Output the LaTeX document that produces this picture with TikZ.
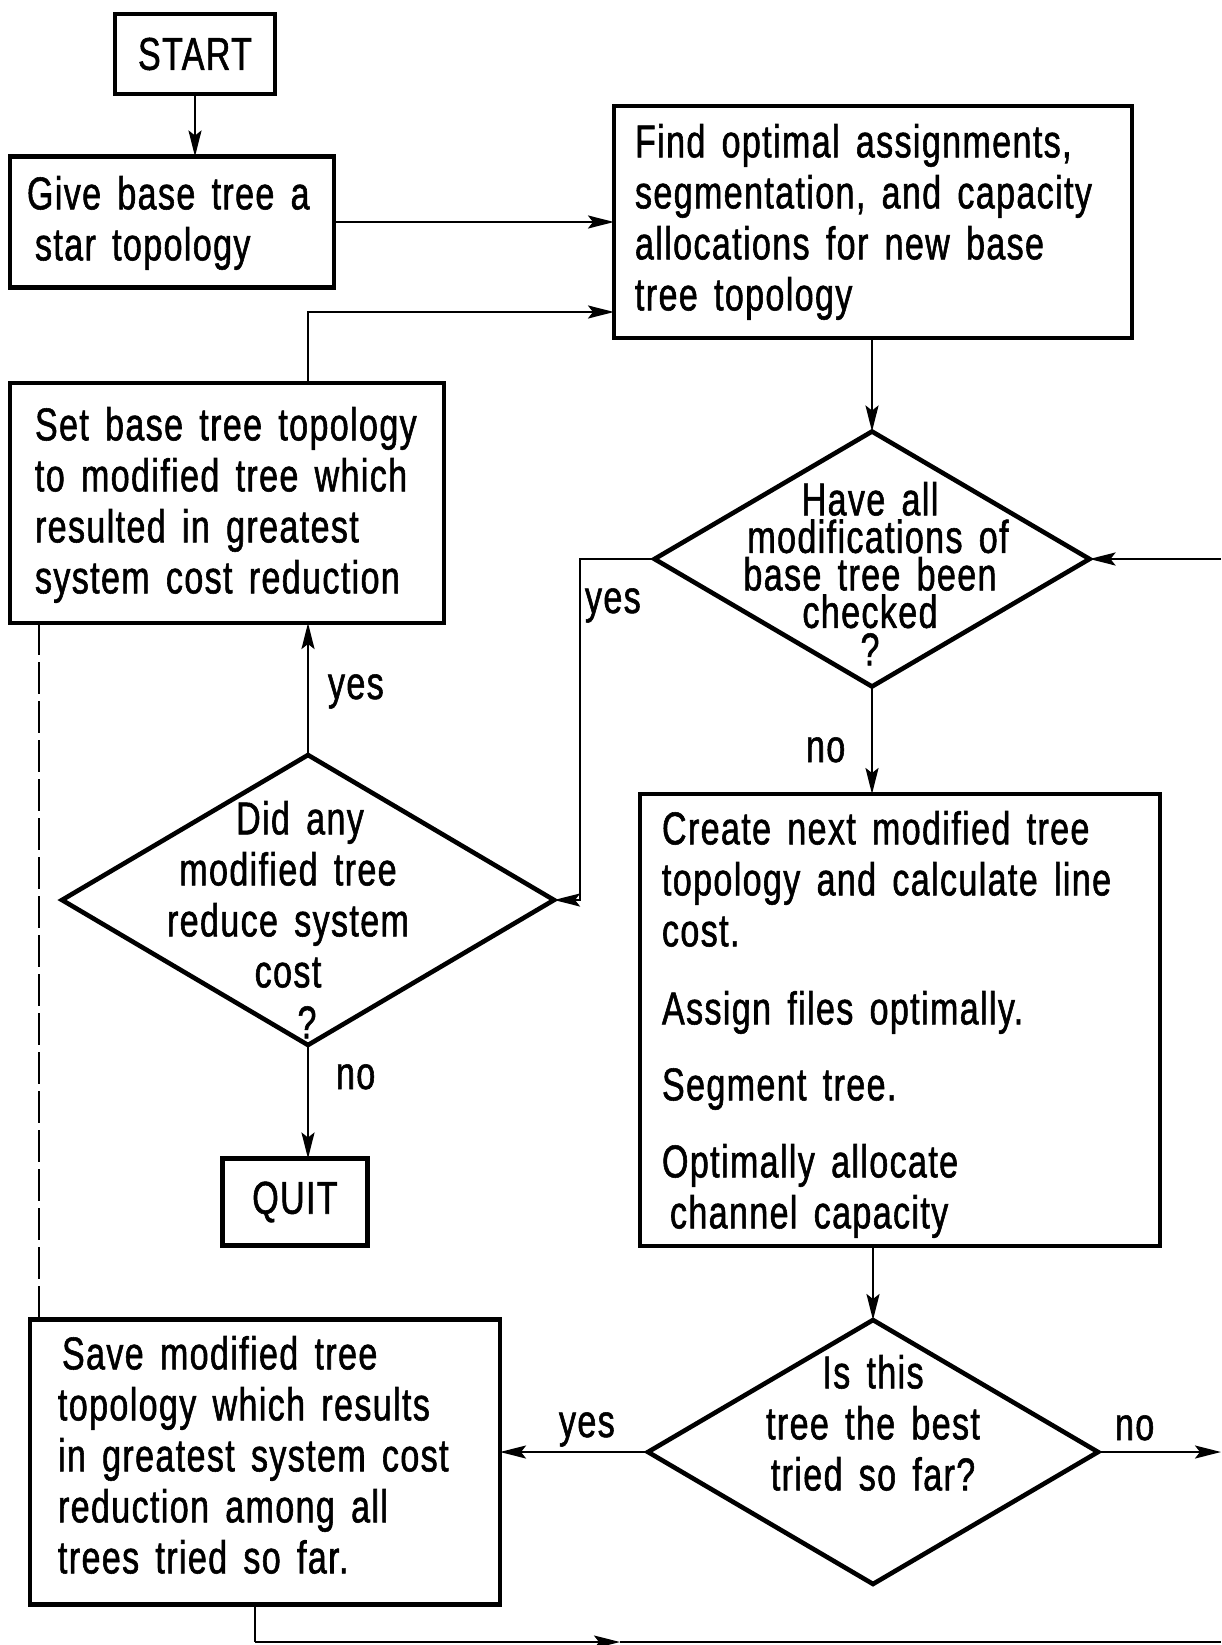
\documentclass[tikz,border=0pt]{standalone}
\usepackage{fontspec}
\setmainfont{Liberation Sans}[FakeStretch=0.74, LetterSpace=3, WordSpace=1.5, FakeBold=1.2]
\usetikzlibrary{shapes.geometric,arrows.meta}

\begin{document}
\setlength{\lineskiplimit}{-60pt}
\begin{tikzpicture}[x=1pt,y=-1pt,
  every node/.style={inner sep=0pt, outer sep=0pt},
  bigfont/.style={font=\fontsize{46}{51}\selectfont},
  txt/.style={bigfont, align=left, anchor=north west},
  ctxt/.style={bigfont, align=center, anchor=north},
  lbl/.style={bigfont, anchor=base west},
  procbox/.style={draw, line width=4.6pt, rectangle},
  decision/.style={draw, line width=4.6pt, diamond},
  flow/.style={line width=2.4pt, -{Stealth[length=26pt,width=13pt,inset=5pt]}},
  plain/.style={line width=2.4pt},
]
\useasboundingbox (0,0) rectangle (1221,1645);

% ---- boxes and decisions ----
\node[procbox, minimum width=160pt, minimum height=80pt, bigfont] (start) at (195,54) {START};
\node[procbox, minimum width=324pt, minimum height=131pt] (give) at (172,222) {};
\node[txt] (givetext) at (27,176) {Give base tree a\\\hspace*{8pt}star topology};

\node[procbox, minimum width=518pt, minimum height=232pt] (find) at (873,222) {};
\node[txt] (findtext) at (635,124) {Find optimal assignments,\\segmentation, and capacity\\allocations for new base\\tree topology};

\node[procbox, minimum width=434pt, minimum height=240pt] (set) at (227,503) {};
\node[txt] (settext) at (35,407) {Set base tree topology\\to modified tree which\\resulted in greatest\\system cost reduction};

\node[decision, minimum width=435pt, minimum height=255pt] (d1) at (872,559) {};
\node[ctxt, font=\fontsize{46}{37.5}\selectfont] (d1text) at (870,482)
  {Have all\\\hspace*{16pt}modifications of\\base tree been\hspace*{56pt}\\checked\\?};

\node[decision, minimum width=492pt, minimum height=290pt] (d2) at (308,900) {};
\node[ctxt] (d2text) at (288,801)
  {\hspace*{24pt}Did any\\modified tree\\reduce system\\cost\\\hspace*{38pt}?};

\node[procbox, minimum width=145pt, minimum height=87pt, bigfont] (quit) at (295,1202) {QUIT};

\node[procbox, minimum width=520pt, minimum height=452pt] (create) at (900,1020) {};
\node[txt] (createtext) at (662,811)
  {Create next modified tree\\topology and calculate line\\cost.\\[27pt]Assign files optimally.\\[25pt]Segment tree.\\[26pt]Optimally allocate\\\hspace*{8pt}channel capacity};

\node[decision, minimum width=450pt, minimum height=264pt] (d3) at (873,1452) {};
\node[ctxt] (d3text) at (873,1355) {Is this\\tree the best\\tried so far?};

\node[procbox, minimum width=470pt, minimum height=285pt] (save) at (265,1462) {};
\node[txt] (savetext) at (58,1336)
  {\hspace*{4pt}Save modified tree\\topology which results\\in greatest system cost\\reduction among all\\trees tried so far.};

% ---- branch labels ----
\node[lbl] (yes1) at (585,613) {yes};
\node[lbl] (yes2) at (328,699) {yes};
\node[lbl] (no2) at (336,1089) {no};
\node[lbl] (no1) at (806,762) {no};
\node[lbl] (yes3) at (559,1437) {yes};
\node[lbl] (no3) at (1115,1440) {no};

% ---- helper points for bends and page-edge ends ----
\coordinate (loopy) at (0,312);
\coordinate (rightin) at (1221,559);
\coordinate (yesbend) at (580,900);
\coordinate (noout) at (1221,1452);
\coordinate (dashx) at (39,0);
\coordinate (botturn) at (255,1642);
\coordinate (botmid) at (620,1642);
\coordinate (botend) at (1221,1642);

% ---- connectors ----
\draw[flow] (start.south) -- (start.south |- give.north);
\draw[flow] (give.east) -- (give.east -| find.west);
\draw[flow] (set.north -| d2.north) |- (find.west |- loopy);
\draw[flow] (find.south -| d1.north) -- (d1.north);
\draw[flow] (rightin) -- (d1.east);
\draw[flow] (d1.west) -| (yesbend) -- (d2.east);
\draw[flow] (d1.south) -- (d1.south |- create.north);
\draw[flow] (d2.north) -- (d2.north |- set.south);
\draw[flow] (d2.south) -- (d2.south |- quit.north);
\draw[flow] (create.south -| d3.north) -- (d3.north);
\draw[flow] (d3.west) -- (d3.west -| save.east);
\draw[flow] (d3.east) -- (noout);
\draw[plain, dash pattern=on 32pt off 7pt] (set.south -| dashx) -- (save.north -| dashx);
\draw[plain] (save.south -| botturn) -- (botturn);
\draw[flow] (botturn) -- (botmid);
\draw[plain] (botmid) -- (botend);
\end{tikzpicture}
\end{document}
